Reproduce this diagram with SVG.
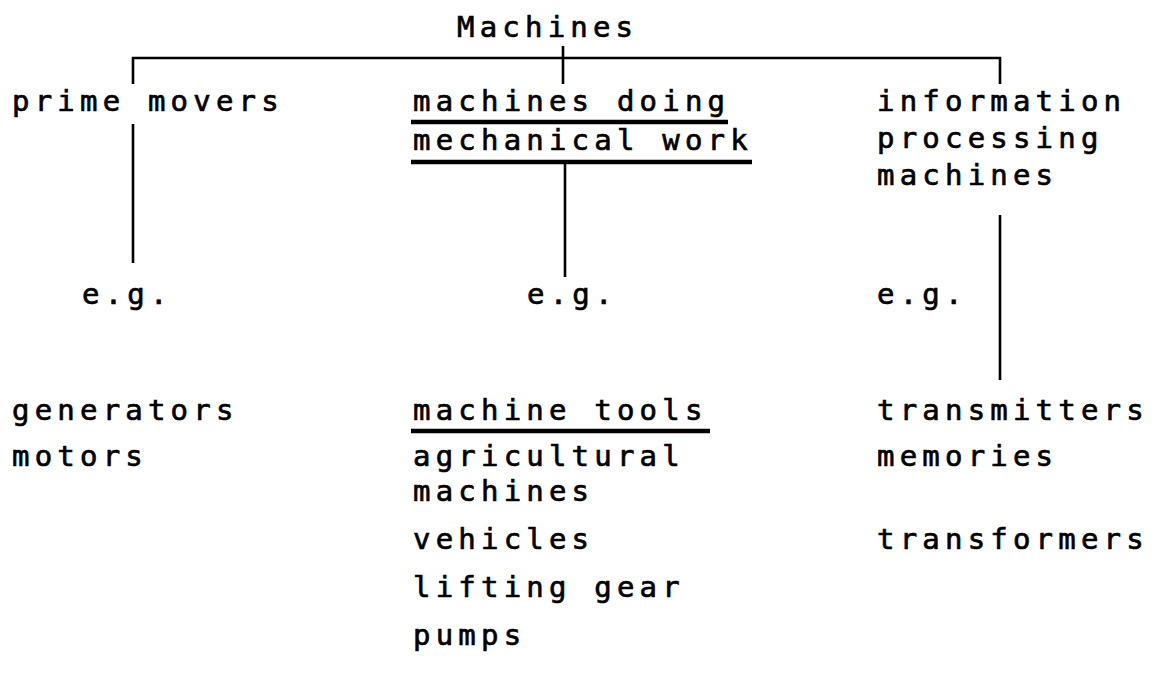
<svg xmlns="http://www.w3.org/2000/svg" width="1160" height="690" viewBox="0 0 1160 690">
<style>
text{font-family:"DejaVu Sans Mono","Liberation Mono",monospace;font-size:29px;letter-spacing:5.2px;fill:#000;stroke:#000;stroke-width:0.7px}
.c{stroke:#000;stroke-width:2.6;fill:none}
.u{stroke:#000;stroke-width:4.5;fill:none}
</style>
<rect width="1160" height="690" fill="#fff"/>
<g id="connectors">
<path class="c" d="M133 84V58H1000V84"/>
<path class="c" d="M563 46V84"/>
<path class="c" d="M133 124V263"/>
<path class="c" d="M565 163V277"/>
<path class="c" d="M1000 215V380"/>
</g>
<g id="machines"><text x="457" y="37">Machines</text></g>
<g id="prime-movers"><text x="12" y="111">prime movers</text></g>
<g id="mechanical-work">
<text x="413" y="111">machines doing</text>
<path class="u" d="M411 122H728"/>
<text x="413" y="150">mechanical work</text>
<path class="u" d="M411 162H752"/>
</g>
<g id="information-processing">
<text x="877" y="111">information</text>
<text x="877" y="148">processing</text>
<text x="877" y="185">machines</text>
</g>
<g id="eg-prime"><text x="82" y="304">e.g.</text></g>
<g id="eg-mechanical"><text x="527" y="304">e.g.</text></g>
<g id="eg-information"><text x="877" y="304">e.g.</text></g>
<g id="prime-examples">
<text x="12" y="420">generators</text>
<text x="12" y="466">motors</text>
</g>
<g id="mechanical-examples">
<text x="413" y="420">machine tools</text>
<path class="u" d="M411 431H710"/>
<text x="413" y="466">agricultural</text>
<text x="413" y="501">machines</text>
<text x="413" y="549">vehicles</text>
<text x="413" y="597">lifting gear</text>
<text x="413" y="645">pumps</text>
</g>
<g id="information-examples">
<text x="877" y="420">transmitters</text>
<text x="877" y="466">memories</text>
<text x="877" y="549">transformers</text>
</g>
</svg>
